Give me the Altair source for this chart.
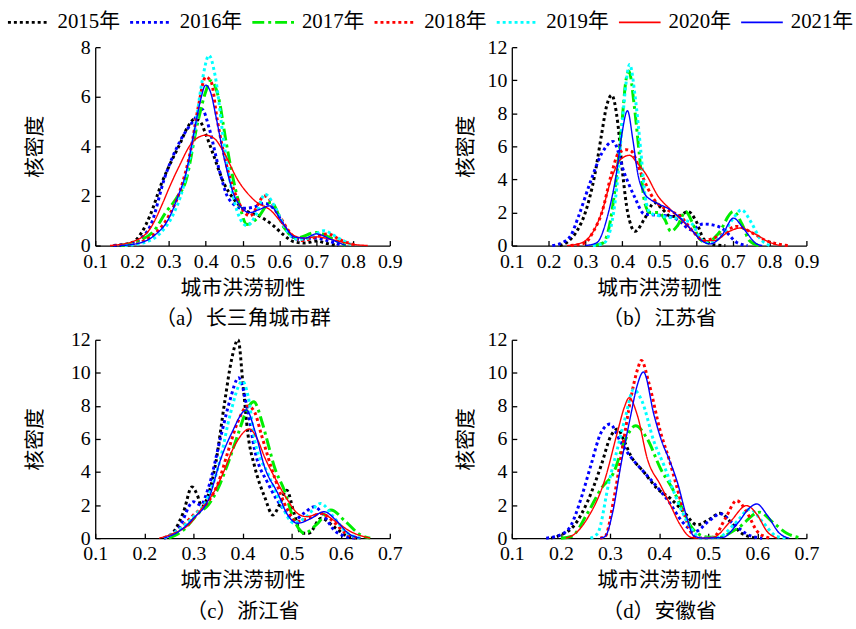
import altair as alt
import pandas as pd

years = ["2015", "2016", "2017", "2018", "2019", "2020", "2021"]
colors = ["#000000", "#0000ff", "#00ee00", "#ff0000", "#00ffff", "#ff0000", "#0000ff"]
dashes = [[3, 3], [3, 3], [12, 4, 3, 4], [3, 3], [3, 3], [1, 0], [1, 0]]
widths = [3, 3, 3, 3, 3, 1.4, 1.4]

# ---- panel (a) 长三角城市群: (x, density) points
A15 = [(0.15,0),(0.2,0.12),(0.225,0.5),(0.25,1.25),(0.28,2.5),(0.31,3.5),(0.33,4.1),(0.35,4.75),(0.37,5.1),(0.385,5.0),(0.40,4.5),(0.42,3.7),(0.45,2.5),(0.475,1.9),(0.5,1.5),(0.55,1.15),(0.58,0.85),(0.61,0.45),(0.64,0.15),(0.67,0.1),(0.70,0.18),(0.73,0.08),(0.76,0)]
A16 = [(0.15,0),(0.2,0.08),(0.225,0.3),(0.25,0.8),(0.29,2.8),(0.33,4.2),(0.37,5.1),(0.39,5.5),(0.41,4.7),(0.436,3.1),(0.462,1.9),(0.50,1.5),(0.53,1.55),(0.56,1.7),(0.59,1.4),(0.62,0.6),(0.65,0.25),(0.70,0.3),(0.73,0.2),(0.77,0)]
A17 = [(0.17,0),(0.22,0.2),(0.26,0.6),(0.29,1.3),(0.32,1.9),(0.346,2.6),(0.377,4.87),(0.40,6.2),(0.413,6.65),(0.436,5.9),(0.454,4.3),(0.465,3.4),(0.489,1.8),(0.512,0.85),(0.54,1.1),(0.577,1.75),(0.614,0.7),(0.645,0.3),(0.70,0.53),(0.74,0.3),(0.78,0)]
A18 = [(0.18,0),(0.22,0.12),(0.26,0.45),(0.30,1.2),(0.33,2.2),(0.36,3.9),(0.38,5.6),(0.40,6.8),(0.415,6.6),(0.431,5.1),(0.454,3.4),(0.48,2.1),(0.52,1.2),(0.56,2.0),(0.60,1.2),(0.63,0.5),(0.66,0.2),(0.73,0.47),(0.77,0.2),(0.81,0)]
A19 = [(0.18,0),(0.24,0.15),(0.28,0.55),(0.31,1.2),(0.34,2.4),(0.37,4.6),(0.39,6.6),(0.409,7.67),(0.425,6.9),(0.45,4.1),(0.47,2.3),(0.49,1.2),(0.512,0.8),(0.535,1.2),(0.561,2.07),(0.59,1.5),(0.62,0.6),(0.65,0.25),(0.68,0.3),(0.72,0.6),(0.76,0.3),(0.80,0)]
A20 = [(0.14,0),(0.2,0.15),(0.25,0.7),(0.283,1.7),(0.30,2.3),(0.328,3.2),(0.363,4.15),(0.40,4.45),(0.425,4.3),(0.444,3.9),(0.489,2.6),(0.534,1.8),(0.578,1.4),(0.61,0.85),(0.64,0.4),(0.67,0.3),(0.70,0.35),(0.74,0.25),(0.80,0.05),(0.84,0)]
A21 = [(0.17,0),(0.22,0.1),(0.26,0.4),(0.30,1.1),(0.325,2.0),(0.346,2.9),(0.37,4.7),(0.385,5.8),(0.40,6.47),(0.415,6.1),(0.427,5.27),(0.454,3.27),(0.48,1.93),(0.52,1.33),(0.545,1.45),(0.574,1.6),(0.61,0.9),(0.64,0.35),(0.67,0.3),(0.70,0.47),(0.74,0.25),(0.78,0)]

# ---- panel (b) 江苏省
B15 = [(0.23,0),(0.254,0.26),(0.28,1.0),(0.299,1.96),(0.326,4.36),(0.344,6.76),(0.357,8.4),(0.371,9.1),(0.388,7.36),(0.401,4.36),(0.415,1.96),(0.435,0.86),(0.46,1.6),(0.487,2.6),(0.505,2.3),(0.532,1.76),(0.555,1.8),(0.578,2.06),(0.60,1.5),(0.621,0.4),(0.65,0.05),(0.68,0)]
B16 = [(0.21,0),(0.236,0.16),(0.26,0.6),(0.281,1.76),(0.312,3.76),(0.344,5.56),(0.375,6.3),(0.406,4.36),(0.433,2.96),(0.46,1.9),(0.49,1.85),(0.532,1.76),(0.56,1.4),(0.586,0.96),(0.62,1.3),(0.645,1.25),(0.676,0.96),(0.71,0.2),(0.74,0)]
B17 = [(0.32,0),(0.348,0.16),(0.365,1.2),(0.38,3.36),(0.398,7.16),(0.41,10.0),(0.418,10.56),(0.433,8.36),(0.447,5.36),(0.46,2.7),(0.474,2.0),(0.50,2.0),(0.515,1.6),(0.532,0.86),(0.55,1.2),(0.572,2.06),(0.59,1.4),(0.61,0.4),(0.63,0.17),(0.66,0.7),(0.702,2.06),(0.725,1.3),(0.745,0.3),(0.77,0)]
B18 = [(0.26,0),(0.299,0.16),(0.32,0.8),(0.344,1.96),(0.371,4.36),(0.389,5.56),(0.41,5.8),(0.425,5.7),(0.451,4.36),(0.487,2.76),(0.523,2.16),(0.558,1.76),(0.594,0.8),(0.62,0.3),(0.66,0.55),(0.711,1.16),(0.75,0.8),(0.79,0.3),(0.82,0.1),(0.85,0)]
B19 = [(0.32,0),(0.35,0.15),(0.368,1.0),(0.385,3.5),(0.40,7.4),(0.41,9.8),(0.42,10.96),(0.435,9.0),(0.45,5.8),(0.462,3.0),(0.475,2.0),(0.50,1.8),(0.53,1.7),(0.56,1.6),(0.59,1.3),(0.61,0.5),(0.635,0.15),(0.67,0.6),(0.70,1.6),(0.724,2.16),(0.75,1.4),(0.775,0.4),(0.80,0)]
B20 = [(0.25,0),(0.28,0.1),(0.30,0.3),(0.325,1.0),(0.344,2.0),(0.37,4.0),(0.395,5.2),(0.42,5.46),(0.44,5.0),(0.463,4.36),(0.498,2.96),(0.53,2.2),(0.558,1.6),(0.59,0.9),(0.62,0.3),(0.65,0.3),(0.69,0.85),(0.72,1.06),(0.76,0.7),(0.80,0.2),(0.83,0)]
B21 = [(0.30,0),(0.33,0.16),(0.362,1.96),(0.384,4.36),(0.399,6.76),(0.414,8.16),(0.429,6.36),(0.442,4.36),(0.46,3.16),(0.478,2.76),(0.50,2.5),(0.523,2.26),(0.558,1.66),(0.59,0.9),(0.615,0.3),(0.64,0.1),(0.67,0.6),(0.702,1.66),(0.73,1.0),(0.765,0.1),(0.78,0)]

# ---- panel (c) 浙江省
C15 = [(0.24,0),(0.26,0.4),(0.28,1.6),(0.297,3.1),(0.308,2.6),(0.317,1.9),(0.33,2.6),(0.344,4.3),(0.364,8.3),(0.377,10.7),(0.391,12.0),(0.401,9.3),(0.411,6.3),(0.425,4.3),(0.445,2.5),(0.462,1.4),(0.475,2.0),(0.49,2.9),(0.505,1.5),(0.52,0.3),(0.535,0.3),(0.56,1.2),(0.59,0.6),(0.62,0.05),(0.64,0)]
C16 = [(0.24,0),(0.27,0.6),(0.30,2.2),(0.315,2.0),(0.33,3.0),(0.357,6.3),(0.374,8.3),(0.392,9.7),(0.41,7.8),(0.425,5.3),(0.452,3.3),(0.485,1.7),(0.505,1.1),(0.525,1.5),(0.546,1.9),(0.565,1.4),(0.586,0.5),(0.61,0.1),(0.63,0)]
C17 = [(0.25,0),(0.28,0.5),(0.31,1.5),(0.33,2.0),(0.35,3.0),(0.37,4.5),(0.391,6.3),(0.408,7.7),(0.423,8.25),(0.44,7.0),(0.452,5.7),(0.465,4.3),(0.485,2.9),(0.505,1.1),(0.526,0.3),(0.55,0.8),(0.58,1.7),(0.61,1.0),(0.64,0.2),(0.66,0)]
C18 = [(0.24,0),(0.27,0.5),(0.30,1.4),(0.33,2.2),(0.35,3.3),(0.37,5.2),(0.39,7.0),(0.411,8.0),(0.425,7.6),(0.438,6.3),(0.465,3.7),(0.492,1.7),(0.51,1.0),(0.535,1.2),(0.56,1.5),(0.585,1.0),(0.61,0.3),(0.64,0)]
C19 = [(0.24,0),(0.27,0.5),(0.30,1.3),(0.33,2.5),(0.355,4.8),(0.375,7.5),(0.40,9.5),(0.412,8.5),(0.425,5.9),(0.452,3.9),(0.478,2.1),(0.505,0.9),(0.53,1.3),(0.559,2.1),(0.585,1.3),(0.61,0.4),(0.64,0)]
C20 = [(0.23,0),(0.26,0.3),(0.29,0.8),(0.317,1.8),(0.34,2.7),(0.357,3.7),(0.384,5.6),(0.414,6.6),(0.43,6.0),(0.445,4.9),(0.465,3.7),(0.492,2.3),(0.512,1.5),(0.53,1.3),(0.559,1.5),(0.59,1.0),(0.62,0.4),(0.66,0)]
C21 = [(0.24,0),(0.27,0.4),(0.30,1.2),(0.33,2.3),(0.357,4.9),(0.377,6.3),(0.408,7.75),(0.425,6.5),(0.445,4.3),(0.472,2.7),(0.492,1.4),(0.512,0.9),(0.54,1.2),(0.566,1.6),(0.59,1.1),(0.615,0.3),(0.64,0)]

# ---- panel (d) 安徽省
D15 = [(0.18,0),(0.20,0.2),(0.228,0.8),(0.254,2.2),(0.282,4.4),(0.302,6.2),(0.315,6.6),(0.33,5.8),(0.342,5.0),(0.369,4.0),(0.396,3.0),(0.423,2.4),(0.45,1.6),(0.477,0.8),(0.50,1.1),(0.524,1.5),(0.545,1.0),(0.565,0.36),(0.59,0.05),(0.60,0)]
D16 = [(0.17,0),(0.20,0.2),(0.221,0.8),(0.241,2.4),(0.261,4.4),(0.282,6.4),(0.30,6.9),(0.322,5.8),(0.345,4.8),(0.363,4.2),(0.39,3.3),(0.42,2.2),(0.447,1.0),(0.473,0.4),(0.50,1.0),(0.525,1.47),(0.55,0.9),(0.585,0.15),(0.61,0)]
D17 = [(0.2,0),(0.221,0.1),(0.254,1.5),(0.282,3.0),(0.308,4.0),(0.329,5.8),(0.352,6.8),(0.376,6.0),(0.403,4.2),(0.427,3.0),(0.447,1.8),(0.463,0.8),(0.483,0.2),(0.50,0.05),(0.52,0.05),(0.56,0.6),(0.605,1.57),(0.63,1.0),(0.66,0.3),(0.69,0)]
D18 = [(0.28,0),(0.29,0.1),(0.308,2.4),(0.325,5.4),(0.342,8.4),(0.356,10.2),(0.364,10.75),(0.379,9.4),(0.403,6.4),(0.42,4.8),(0.437,3.0),(0.454,1.2),(0.47,0.15),(0.49,0),(0.51,0.05),(0.535,1.2),(0.558,2.27),(0.58,1.5),(0.60,0.4),(0.625,0)]
D19 = [(0.26,0),(0.275,0.3),(0.298,3.4),(0.315,5.4),(0.332,7.4),(0.348,9.0),(0.365,8.3),(0.39,5.8),(0.41,4.4),(0.43,2.8),(0.45,1.4),(0.47,0.4),(0.485,0),(0.52,0.05),(0.555,0.9),(0.585,1.75),(0.61,1.0),(0.64,0.1),(0.66,0)]
D20 = [(0.21,0),(0.23,0.3),(0.254,1.2),(0.288,3.4),(0.315,6.4),(0.329,7.9),(0.339,8.5),(0.356,7.4),(0.376,4.8),(0.403,3.2),(0.423,2.0),(0.443,0.8),(0.465,0.05),(0.48,0),(0.51,0.05),(0.545,1.0),(0.578,1.97),(0.60,1.4),(0.62,0.4),(0.64,0)]
D21 = [(0.28,0),(0.29,0.1),(0.305,1.5),(0.322,4.4),(0.342,7.4),(0.355,9.2),(0.368,10.05),(0.39,7.4),(0.406,5.8),(0.42,4.8),(0.437,3.4),(0.457,1.2),(0.47,0.15),(0.49,0),(0.53,0.05),(0.56,0.9),(0.585,1.85),(0.599,2.07),(0.62,1.4),(0.645,0.3),(0.665,0)]

xticks_wide = [0.1, 0.2, 0.3, 0.4, 0.5, 0.6, 0.7, 0.8, 0.9]
xticks_narrow = [0.1, 0.2, 0.3, 0.4, 0.5, 0.6, 0.7]
yticks_8 = [0, 2, 4, 6, 8]
yticks_12 = [0, 2, 4, 6, 8, 10, 12]
panel_names = ["（a）长三角城市群", "（b）江苏省", "（c）浙江省", "（d）安徽省"]
x_title = "城市洪涝韧性"
y_title = "核密度"

W, H = 297, 200
NUM_FONT = "Liberation Serif"
CJK_FONT = "Liberation Serif, Noto Sans CJK SC"


def make_df(series_list):
    rows = []
    for yr, pts in zip(years, series_list):
        for x, y in pts:
            rows.append({"year": yr, "x": x, "y": y})
    return pd.DataFrame(rows)


def panel(series_list, xmax, xticks, ymax, yticks, name, ytitle_x, extra=None):
    df = make_df(series_list)
    xs = alt.Scale(domain=[0.1, xmax], nice=False, zero=False)
    ys = alt.Scale(domain=[0, ymax], nice=False, zero=False)
    base = alt.Chart(df)
    # main axes (labels, domain lines, titles) carried by an invisible layer
    axes_main = base.mark_point(opacity=0).encode(
        x=alt.X("x:Q", scale=xs, axis=alt.Axis(
            orient="bottom", values=xticks, format=".1f", ticks=False, tickSize=0,
            grid=False, domainColor="black", domainWidth=1.3,
            labelFont=NUM_FONT, labelFontSize=20, labelColor="black", labelPadding=6,
            labelFlush=False, labelOverlap=False,
            title=[x_title, name], titleFont=CJK_FONT, titleFontSize=21,
            titleFontWeight="normal", titleColor="black", titleLineHeight=31,
            titleBaseline="top", titleY=32)),
        y=alt.Y("y:Q", scale=ys, axis=alt.Axis(
            orient="left", values=yticks, format="d", ticks=False, tickSize=0,
            grid=False, domainColor="black", domainWidth=1.3,
            labelFont=NUM_FONT, labelFontSize=20, labelColor="black", labelPadding=5,
            labelFlush=False, labelOverlap=False,
            title=y_title, titleFont=CJK_FONT, titleFontSize=21,
            titleFontWeight="normal", titleColor="black", titleAngle=270,
            titleAlign="center", titleBaseline="middle", titleX=ytitle_x, titleY=H / 2)),
    )
    # inward ticks
    axes_ticks = base.mark_point(opacity=0).encode(
        x=alt.X("x:Q", scale=xs, axis=alt.Axis(
            orient="top", offset=-H, values=xticks, labels=False, domain=False,
            grid=False, ticks=True, tickSize=5, tickWidth=1.3, tickColor="black", title=None)),
        y=alt.Y("y:Q", scale=ys, axis=alt.Axis(
            orient="right", offset=-W, values=yticks, labels=False, domain=False,
            grid=False, ticks=True, tickSize=5, tickWidth=1.3, tickColor="black", title=None)),
    )
    layers = [axes_main, axes_ticks]
    for i, yr in enumerate(years):
        layers.append(
            base.transform_filter(alt.datum.year == yr)
            .mark_line(interpolate="monotone", color=colors[i], strokeDash=dashes[i], strokeWidth=widths[i])
            .encode(x=alt.X("x:Q", scale=xs, axis=None), y=alt.Y("y:Q", scale=ys, axis=None))
        )
    if extra is not None:
        layers.extend(extra(xs, xmax))
    return alt.layer(*layers).properties(width=W, height=H)


def legend_layers(xs, xmax):
    # legend placed above panel (a); pixel layout converted into panel (a) x units
    ppu = W / (xmax - 0.1)
    leg_df = pd.DataFrame({"year": years, "idx": list(range(len(years)))})
    out = []
    for i, yr in enumerate(years):
        lb = alt.Chart(leg_df).transform_filter(alt.datum.year == yr).transform_calculate(
            sx=f"0.1 + (-88 + 123.2*datum.idx)/{ppu}",
            ex=f"0.1 + (-46 + 123.2*datum.idx)/{ppu}",
        )
        out.append(lb.mark_rule(color=colors[i], strokeDash=dashes[i], strokeWidth=widths[i] if widths[i] > 2 else 2).encode(
            x=alt.X("sx:Q", scale=xs, axis=None), x2="ex:Q", y=alt.value(-25)))
    lt = alt.Chart(leg_df).transform_calculate(
        tx=f"0.1 + (-38 + 123.2*datum.idx)/{ppu}", label='datum.year + "年"')
    out.append(lt.mark_text(align="left", baseline="middle", font=CJK_FONT, fontSize=21, color="black").encode(
        x=alt.X("tx:Q", scale=xs, axis=None), y=alt.value(-25), text="label:N"))
    return out


pa = panel([A15, A16, A17, A18, A19, A20, A21], 0.9, xticks_wide, 8, yticks_8, panel_names[0], -60, extra=legend_layers)
pb = panel([B15, B16, B17, B18, B19, B20, B21], 0.9, xticks_wide, 12, yticks_12, panel_names[1], -46)
pc = panel([C15, C16, C17, C18, C19, C20, C21], 0.7, xticks_narrow, 12, yticks_12, panel_names[2], -60)
pd_ = panel([D15, D16, D17, D18, D19, D20, D21], 0.7, xticks_narrow, 12, yticks_12, panel_names[3], -46)

chart = alt.concat(pa, pb, pc, pd_, columns=2, spacing={"row": 95, "column": 123}, bounds="flush").properties(
    padding={"left": 6, "top": 9, "right": 2, "bottom": 2}, background="white"
).configure_view(stroke=None)

chart.save("out.html", embed_options={"renderer": "svg", "actions": False})
